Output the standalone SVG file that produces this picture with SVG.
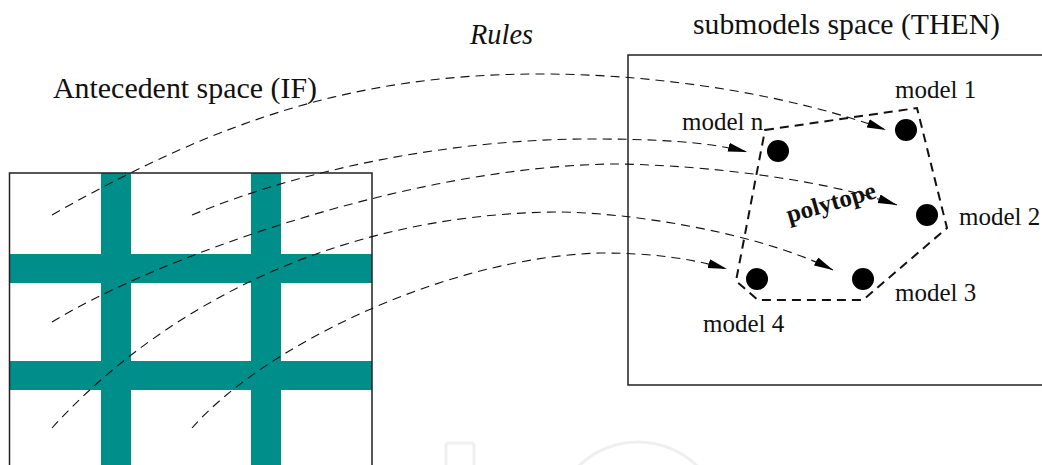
<svg xmlns="http://www.w3.org/2000/svg" width="1042" height="465" viewBox="0 0 1042 465">
<style>
.lbl{font-family:"Liberation Serif","Times New Roman",serif;fill:#111}
.model{font-size:25px}
.frame{fill:none;stroke:#222;stroke-width:1.5}
.bar{fill:#008E8B}
.rule{fill:none;stroke:#111;stroke-width:1.1;stroke-dasharray:9 6}
.poly{fill:none;stroke:#111;stroke-width:2;stroke-dasharray:9 6}
.dot{fill:#000}
.wm{fill:none;stroke:#efefef;stroke-width:3}
</style>
<defs>
<marker id="arr" markerUnits="userSpaceOnUse" markerWidth="22" markerHeight="10" refX="19" refY="4.5" orient="auto">
<path d="M0,0 L19,4.5 L0,9 Z" fill="#000"/>
</marker>
</defs>
<rect width="1042" height="465" fill="#fff"/>
<g id="watermark">
<rect class="wm" x="446" y="443" width="28" height="40" rx="3"/>
<circle class="wm" cx="638" cy="527" r="85"/>
</g>
<g id="antecedent-space">
<rect class="bar" x="101" y="173" width="30" height="292"/>
<rect class="bar" x="251" y="173" width="30" height="292"/>
<rect class="bar" x="9.5" y="254" width="362.5" height="29"/>
<rect class="bar" x="9.5" y="361" width="362.5" height="29"/>
<path class="frame" d="M9.5,465 V173 H372 V465"/>
<text class="lbl" x="53" y="98" font-size="30" textLength="264" lengthAdjust="spacingAndGlyphs">Antecedent space (IF)</text>
</g>
<g id="submodels-space">
<path class="frame" d="M1042,55 H628 V385 H1042"/>
<text class="lbl" x="693" y="33.5" font-size="29" textLength="307" lengthAdjust="spacingAndGlyphs">submodels space (THEN)</text>
</g>
<g id="polytope">
<polygon class="poly" points="765,130 917,108 947,228 863,300 758,300 736,281"/>
<text class="lbl" x="0" y="0" font-size="25" font-weight="bold" textLength="92" lengthAdjust="spacingAndGlyphs" transform="translate(789,223) rotate(-16)">polytope</text>
</g>
<g id="model-n"><circle class="dot" cx="778" cy="151" r="11"/><text class="lbl model" x="682" y="130">model n</text></g>
<g id="model-1"><circle class="dot" cx="906" cy="130" r="11"/><text class="lbl model" x="895" y="98">model 1</text></g>
<g id="model-2"><circle class="dot" cx="927" cy="215" r="11"/><text class="lbl model" x="959" y="225">model 2</text></g>
<g id="model-3"><circle class="dot" cx="863" cy="279" r="11"/><text class="lbl model" x="895" y="301">model 3</text></g>
<g id="model-4"><circle class="dot" cx="757" cy="279" r="11"/><text class="lbl model" x="703" y="332">model 4</text></g>
<g id="rules">
<text class="lbl" x="470" y="44" font-size="30" font-style="italic" textLength="63" lengthAdjust="spacingAndGlyphs">Rules</text>
</g>
<g id="connectors">
<path class="rule" marker-end="url(#arr)" d="M52,215 C222,118 360,74 540,74 C670,74 800,98 886,130"/>
<path class="rule" marker-end="url(#arr)" d="M192,215 C300,170 450,139 590,139 C650,139 705,141 747,152"/>
<path class="rule" marker-end="url(#arr)" d="M52,322 C150,262 400,168 610,164 C680,164 810,175 897,205"/>
<path class="rule" marker-end="url(#arr)" d="M52,428 C150,320 320,215 555,212 C630,212 760,233 833,270"/>
<path class="rule" marker-end="url(#arr)" d="M192,428 C260,350 440,258 600,253 C650,253 690,258 727,269"/>
</g>
</svg>
